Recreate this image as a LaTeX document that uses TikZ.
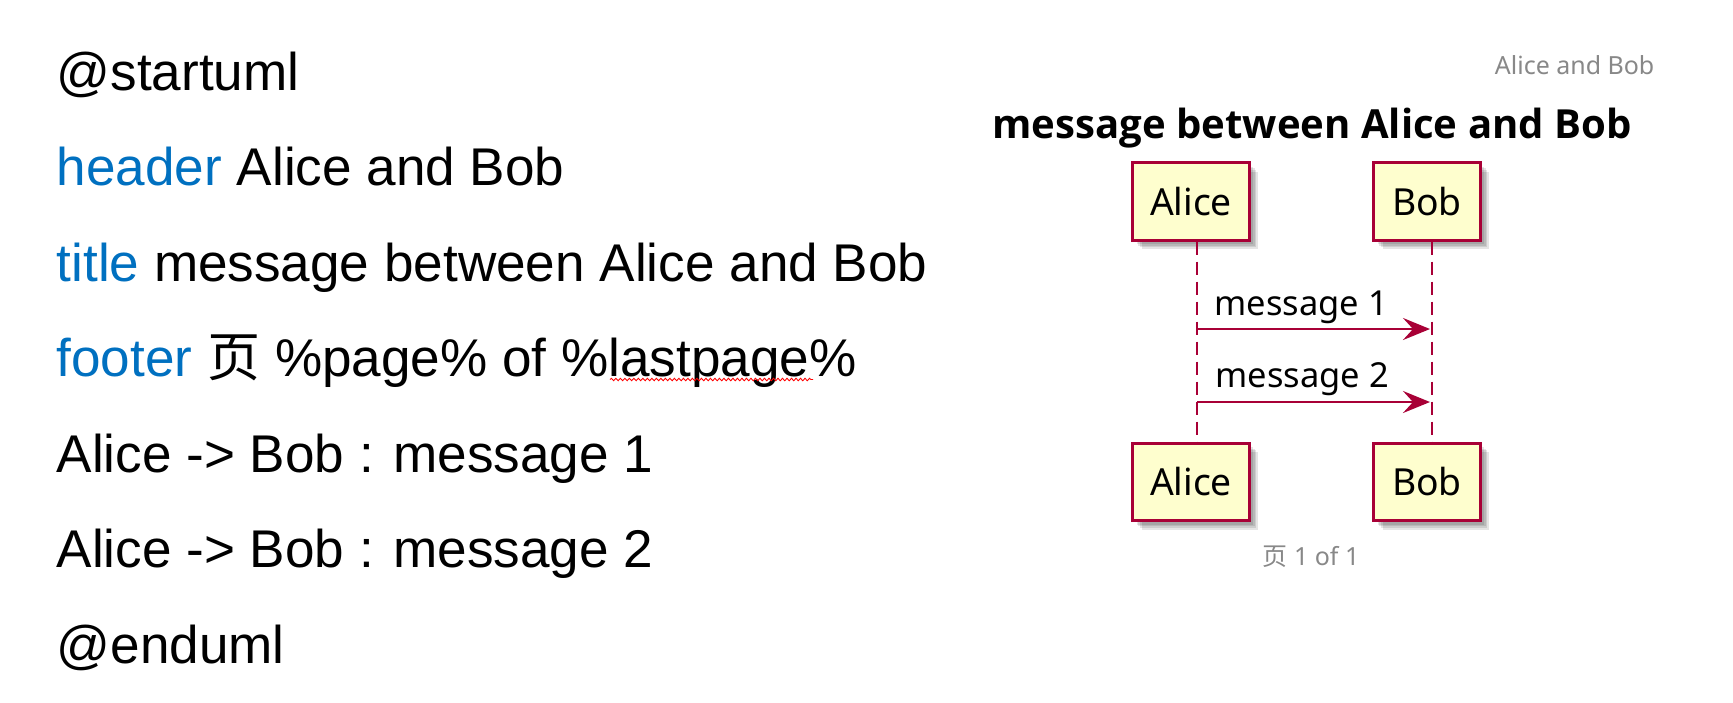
\documentclass[tikz,border=0pt]{standalone}
\usepackage{fontspec}
\setmainfont{Liberation Sans}
\newfontfamily\pfont{Noto Sans}
\newfontfamily\tfont{Open Sans}
\newfontfamily\cjk{Noto Sans CJK SC}
\usetikzlibrary{arrows.meta,decorations.pathmorphing}
\definecolor{umlred}{HTML}{A80036}
\definecolor{umlfill}{HTML}{FEFECE}
\definecolor{kwblue}{HTML}{0070C0}
\definecolor{hfgray}{HTML}{888888}
\begin{document}
\begin{tikzpicture}[x=0.01cm,y=-0.01cm,
  code/.style={anchor=base west, inner sep=0, font=\fontsize{15.1}{18}\selectfont},
  shd/.style={preaction={draw=none, fill=black, fill opacity=0.10, transform canvas={xshift=#1, yshift=-#1}}},
  pbox/.style={draw=umlred, fill=umlfill, line width=0.03cm, minimum height=0.77cm, inner sep=0,
    font=\pfont\fontsize{10.6}{12}\selectfont,
    shd=0.09cm, shd=0.07cm, shd=0.055cm, shd=0.04cm},
  life/.style={draw=umlred, line width=0.02cm, dash pattern=on 0.13cm off 0.07cm},
  msg/.style={draw=umlred, line width=0.025cm, -{Stealth[length=0.27cm,width=0.22cm,inset=0.1cm]}},
  lbl/.style={anchor=base west, inner sep=0, font=\pfont\fontsize{9.8}{12}\selectfont},
  hf/.style={inner sep=0, text=hfgray, font=\pfont\fontsize{7.1}{9}\selectfont},
  ttl/.style={inner sep=0, anchor=base, font=\tfont\bfseries\fontsize{11.4}{13}\selectfont}
]
\useasboundingbox (0,0) rectangle (1733,702);
\fill[white] (0,0) rectangle (1733,702);

% left: source text
\node[code] (c1) at (56,90) {@startuml};
\node[code] (c2) at (56,185.5) {\textcolor{kwblue}{header} Alice and Bob};
\node[code] (c3) at (56,281) {\textcolor{kwblue}{title} message between Alice and Bob};
\node[code] (c4) at (56,376.5) {\textcolor{kwblue}{footer} {\cjk 页} \%page\% of \%lastpage\%};
\node[code] (c5) at (56,472) {Alice -> Bob : message 1};
\node[code] (c6) at (56,567.5) {Alice -> Bob : message 2};
\node[code] (c7) at (56,663) {@enduml};
\draw[red, line width=0.25pt, decorate, decoration={snake, amplitude=0.012cm, segment length=0.045cm}] (610,379.5) -- (813,379.5);

% right: rendered diagram
\node[hf, anchor=base east] (hdr) at (1655,74) {Alice and Bob};
\node[ttl] (title) at (1312,138) {message between Alice and Bob};

\node[pbox, minimum width=1.16cm] (A1) at (1191,201.5) {Alice};
\node[pbox, minimum width=1.06cm] (B1) at (1427,201.5) {Bob};
\node[pbox, minimum width=1.16cm] (A2) at (1191,482) {Alice};
\node[pbox, minimum width=1.06cm] (B2) at (1427,482) {Bob};

\draw[life] ([xshift=0.055cm]A1.south) -- ([xshift=0.055cm]A2.north);
\draw[life] ([xshift=0.05cm]B1.south) -- ([xshift=0.05cm]B2.north);

\coordinate (m1a) at (1197,329);
\coordinate (m1b) at (1430,329);
\coordinate (m2a) at (1197,402);
\coordinate (m2b) at (1430,402);
\draw[msg] (m1a) -- (m1b);
\draw[msg] (m2a) -- (m2b);
\node[lbl] (l1) at (1214,315) {message 1};
\node[lbl] (l2) at (1215,387) {message 2};

\node[hf, anchor=base] (ftr) at (1311,565) {{\cjk 页} 1 of 1};
\end{tikzpicture}
\end{document}
